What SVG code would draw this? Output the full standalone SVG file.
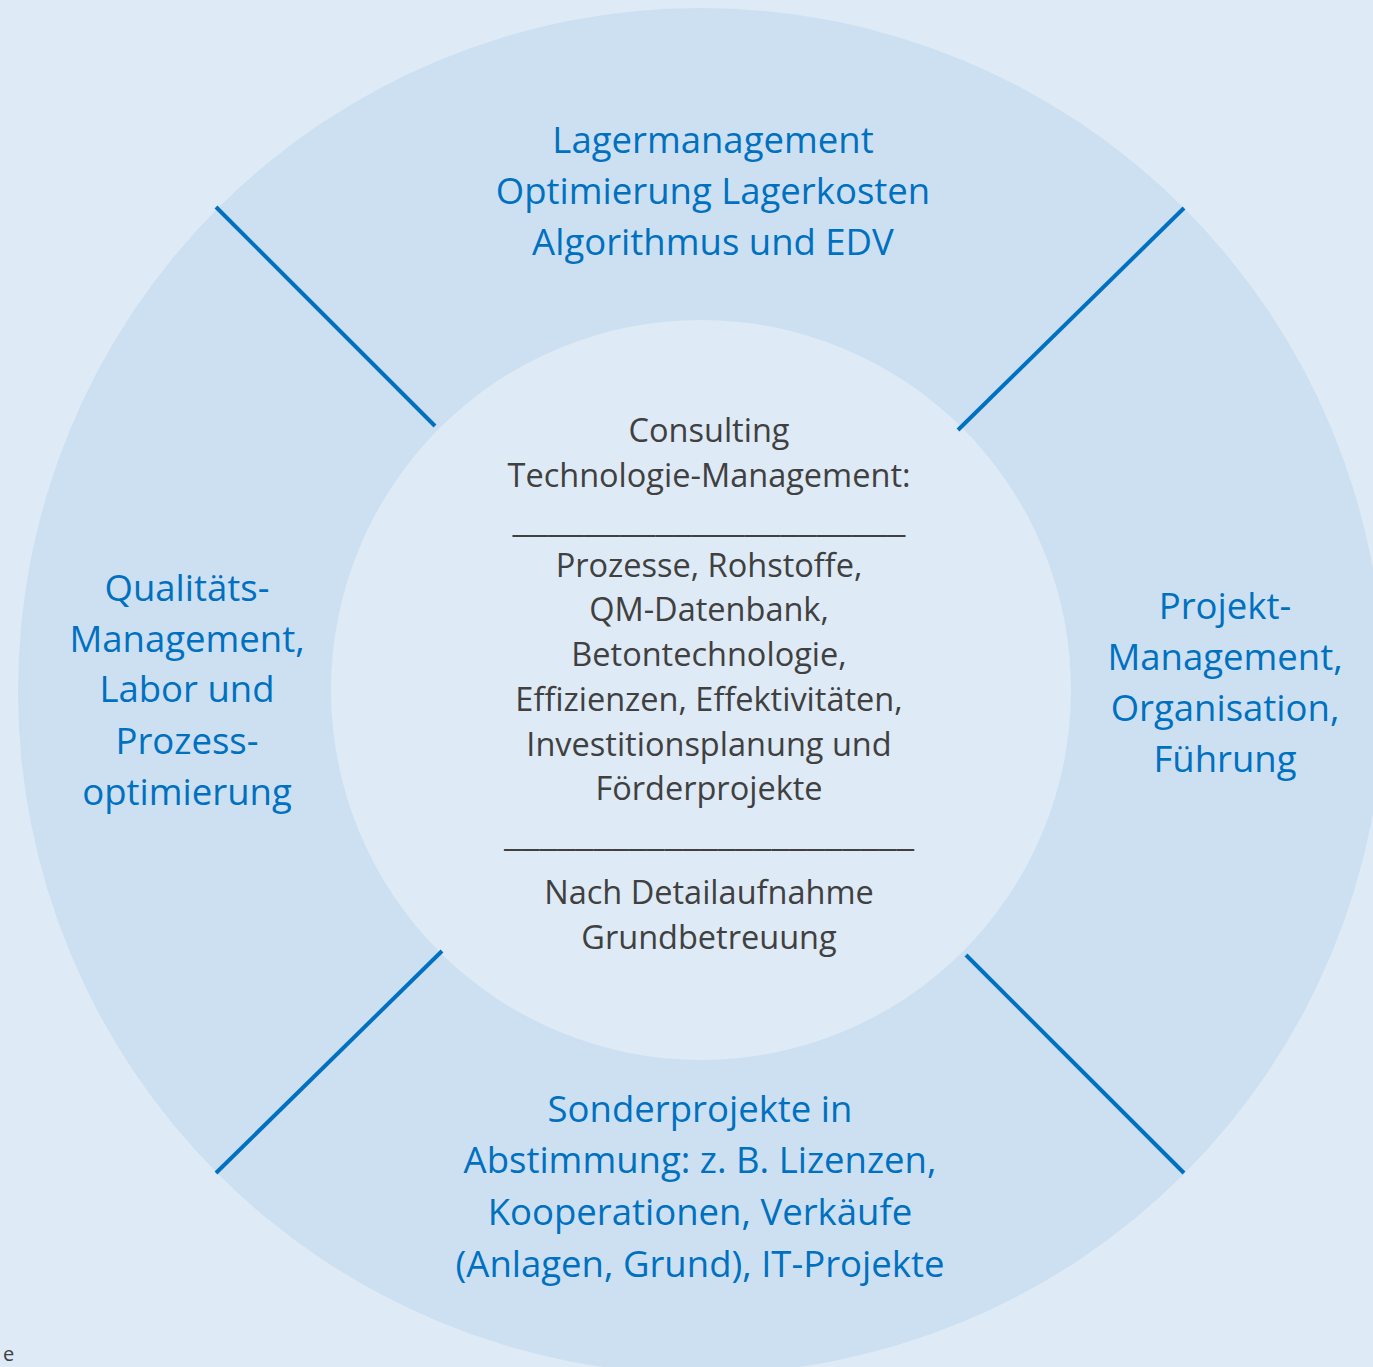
<svg xmlns="http://www.w3.org/2000/svg" width="1373" height="1367" viewBox="0 0 1373 1367">
<style>
.blue{font-family:"Open Sans","Liberation Sans",sans-serif;font-size:36.5px;fill:#0070c0;text-anchor:middle}
.dark{font-family:"Open Sans","Liberation Sans",sans-serif;font-size:32.5px;fill:#404040;text-anchor:middle}
.div{stroke:#0070c0;stroke-width:4;fill:none}
</style>
<rect width="1373" height="1367" fill="#deeaf6"/>
<g id="ring"><circle cx="701" cy="691" r="683" fill="#cde0f1"/></g>
<g id="center"><circle cx="701" cy="690" r="370" fill="#deeaf6"/>
<text class="dark" x="709" y="442">Consulting</text>
<text class="dark" x="709" y="487">Technologie-Management:</text>
<text class="dark" x="709" y="532" textLength="393" lengthAdjust="spacingAndGlyphs">______________________</text>
<text class="dark" x="709" y="577">Prozesse, Rohstoffe,</text>
<text class="dark" x="709" y="621">QM-Datenbank,</text>
<text class="dark" x="709" y="666">Betontechnologie,</text>
<text class="dark" x="709" y="711">Effizienzen, Effektivitäten,</text>
<text class="dark" x="709" y="756">Investitionsplanung und</text>
<text class="dark" x="709" y="800">Förderprojekte</text>
<text class="dark" x="709" y="846" textLength="410" lengthAdjust="spacingAndGlyphs">_______________________</text>
<text class="dark" x="709" y="904">Nach Detailaufnahme</text>
<text class="dark" x="709" y="949">Grundbetreuung</text>
</g>
<g id="top"><text class="blue" x="713" y="153">Lagermanagement</text>
<text class="blue" x="713" y="204">Optimierung Lagerkosten</text>
<text class="blue" x="713" y="255">Algorithmus und EDV</text></g>
<g id="left"><text class="blue" x="187" y="601">Qualitäts-</text>
<text class="blue" x="187" y="652">Management,</text>
<text class="blue" x="187" y="702">Labor und</text>
<text class="blue" x="187" y="754">Prozess-</text>
<text class="blue" x="187" y="805">optimierung</text></g>
<g id="right"><text class="blue" x="1225" y="619">Projekt-</text>
<text class="blue" x="1225" y="670">Management,</text>
<text class="blue" x="1225" y="721">Organisation,</text>
<text class="blue" x="1225" y="772">Führung</text></g>
<g id="bottom"><text class="blue" x="700" y="1122">Sonderprojekte in</text>
<text class="blue" x="700" y="1173">Abstimmung: z. B. Lizenzen,</text>
<text class="blue" x="700" y="1225">Kooperationen, Verkäufe</text>
<text class="blue" x="700" y="1277">(Anlagen, Grund), IT-Projekte</text></g>
<g id="connectors">
<line class="div" x1="216" y1="207" x2="435" y2="426"/>
<line class="div" x1="1184" y1="208" x2="958" y2="430"/>
<line class="div" x1="216" y1="1173" x2="442" y2="951"/>
<line class="div" x1="1184" y1="1173" x2="966" y2="955"/>
</g>
<text x="3" y="1361" style="font-family:'Open Sans',sans-serif;font-size:20px;fill:#404040">e</text>
</svg>
